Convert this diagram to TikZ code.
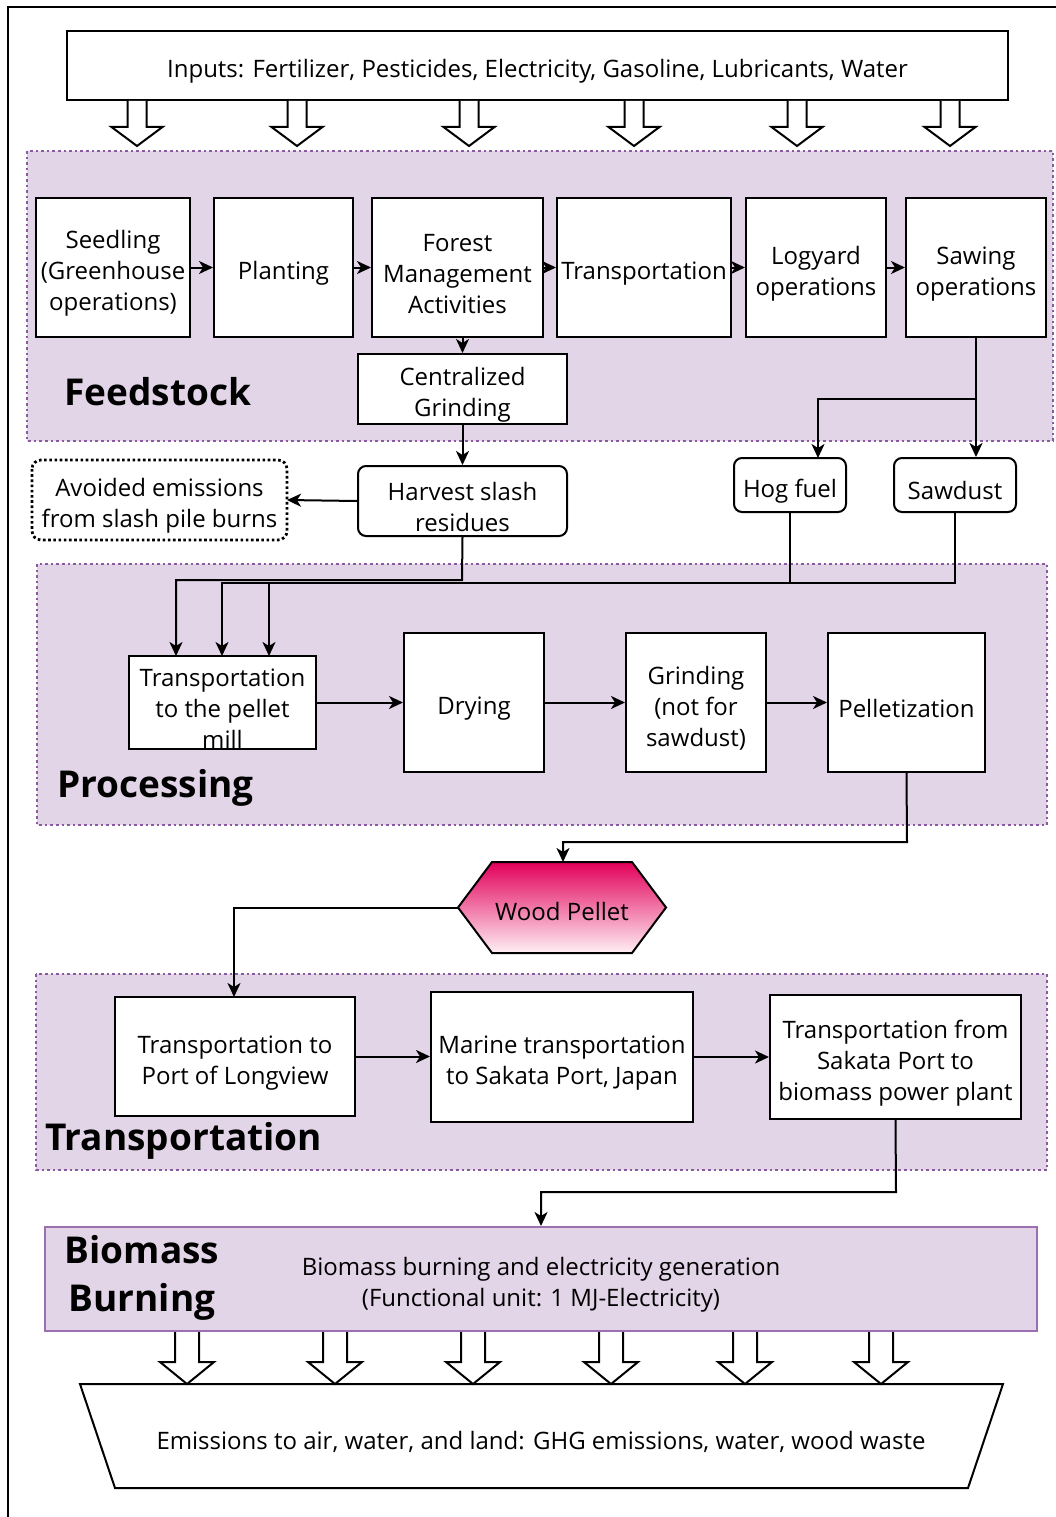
\documentclass[tikz,border=0pt]{standalone}
\usepackage{fontspec}
\setmainfont{Open Sans}
\usetikzlibrary{arrows.meta,calc}
\definecolor{regfill}{HTML}{E3D5E8}
\definecolor{regline}{HTML}{8A5A9E}
\definecolor{bioline}{HTML}{9C6FB0}
\definecolor{pelTop}{HTML}{E2005A}
\definecolor{pelBot}{HTML}{FFEFF4}
\newcommand\mystrut{\rule{0pt}{30pt}}
\newcommand\mystrutb{\rule{0pt}{26pt}}
\begin{document}
\begin{tikzpicture}[x=1pt,y=-1pt,
 box/.style={draw,line width=2pt,fill=white,align=center,inner sep=0pt,font=\fontsize{24}{31}\selectfont,execute at begin node={\rule{0pt}{30pt}}},
 rbox/.style={box,rounded corners=8pt},
 region/.style={fill=regfill,draw=regline,line width=2.6pt,dash pattern=on 2.6pt off 3pt},
 lbl/.style={font=\fontsize{37}{48}\selectfont\bfseries,inner sep=0pt,align=center},
 txt/.style={font=\fontsize{24}{31}\selectfont,inner sep=0pt,align=center,execute at begin node={\rule{0pt}{26pt}}},
 conn/.style={line width=2pt,-{Stealth[length=14pt,width=13pt,inset=4pt]}},
 blk/.style={draw,line width=2pt,fill=white,line join=miter}
]
\useasboundingbox (0,0) rectangle (1056,1517);
% frame
\draw[line width=2.4pt] (1056,7) -- (8,7) -- (8,1517);
% regions
\path[region] (27,151) rectangle (1053,441);
\path[region] (37,564) rectangle (1047,825);
\path[region] (36,974) rectangle (1047,1170);

% inputs
\node[box,minimum width=941pt,minimum height=69pt] (inputs) at (537.5,65.5) {Inputs: Fertilizer, Pesticides, Electricity, Gasoline, Lubricants, Water};
\foreach \x in {137,297,469,634,797,950}
  \draw[blk] ({\x-9.5},101) -- ({\x-9.5},127) -- ({\x-25.5},127) -- (\x,146) -- ({\x+25.5},127) -- ({\x+9.5},127) -- ({\x+9.5},101);

% feedstock
\node[box,minimum width=154pt,minimum height=139pt] (seed) at (113,267.5) {\mystrut Seedling\\(Greenhouse\\operations)};
\node[box,minimum width=139pt,minimum height=139pt] (plant) at (283.5,267.5) {Planting};
\node[box,minimum width=171pt,minimum height=139pt] (forest) at (457.5,267.5) {\mystrut Forest\\Management\\Activities};
\node[box,minimum width=174pt,minimum height=139pt] (transp) at (644,267.5) {Transportation};
\node[box,minimum width=140pt,minimum height=139pt] (logyard) at (816,267.5) {\mystrut Logyard\\operations};
\node[box,minimum width=140pt,minimum height=139pt] (sawing) at (976,267.5) {\mystrut Sawing\\operations};
\node[box,minimum width=209pt,minimum height=70pt] (cgrind) at (462.5,389) {\mystrut Centralized\\Grinding};
\node[lbl,anchor=west] (feedlbl) at (64,392) {Feedstock};

\draw[conn] (seed.east) -- (plant.west);
\draw[conn] (plant.east) -- (forest.west);
\draw[conn] (forest.east) -- (transp.west);
\draw[conn] (transp.east) -- (logyard.west);
\draw[conn] (logyard.east) -- (sawing.west);
\draw[conn] (cgrind.north |- forest.south) -- (cgrind.north);

% middle
\node[rbox,minimum width=209pt,minimum height=70pt] (harvest) at (462.5,501) {\mystrut Harvest slash\\residues};
\node[box,draw=none,fill=none,minimum width=253pt,minimum height=78pt] (avoided) at (159.5,500) {\mystrut Avoided emissions\\from slash pile burns};
\draw[line width=2.8pt,dash pattern=on 2.6pt off 2.6pt,rounded corners=9pt] (avoided.north west) rectangle (avoided.south east);
\node[rbox,minimum width=112pt,minimum height=54pt] (hog) at (790,485) {Hog fuel};
\node[rbox,minimum width=122pt,minimum height=54pt] (sawdust) at (955,485) {Sawdust};

\draw[conn] (cgrind.south) -- (harvest.north);
\draw[conn] (harvest.west) -- (avoided.east);
\coordinate (sawjoin) at (976,399);
\draw[conn] (sawing.south) -- (sawing.south |- sawdust.north);
\draw[conn] (sawjoin) -- (818,399) -- (818,458);

% processing
\node[box,minimum width=187pt,minimum height=93pt] (tpm) at (222.5,702.5) {\mystrut Transportation\\to the pellet\\mill};
\node[box,minimum width=140pt,minimum height=139pt] (drying) at (474,702.5) {Drying};
\node[box,minimum width=140pt,minimum height=139pt] (grind) at (696,702.5) {\mystrut Grinding\\(not for\\sawdust)};
\node[box,minimum width=157pt,minimum height=139pt] (pellet) at (906.5,702.5) {Pelletization};
\node[lbl,anchor=west] (proclbl) at (57,788) {Processing};

\draw[conn] (harvest.south) -- (462,580) -- (176,580) -- (176,656);
\draw[conn] (hog.south) -- (790,583) -- (222,583) -- (222,656);
\draw[conn] (sawdust.south) -- (955,583) -- (269,583) -- (269,656);
\draw[conn] (tpm.east) -- (tpm.east -| drying.west);
\draw[conn] (drying.east) -- (grind.west);
\draw[conn] (grind.east) -- (pellet.west);

% wood pellet
\shade[top color=pelTop,bottom color=pelBot,draw,line width=2pt] (458,907.5) -- (492,862) -- (632,862) -- (666,907.5) -- (632,953) -- (492,953) -- cycle;
\node[txt,minimum width=208pt,minimum height=91pt] (wood) at (562,907.5) {Wood Pellet};
\draw[conn] (pellet.south) -- (907,842) -- (563,842) -- (563,862);

% transportation
\node[box,minimum width=240pt,minimum height=119pt] (tport) at (235,1056.5) {\mystrut Transportation to\\Port of Longview};
\node[box,minimum width=262pt,minimum height=130pt] (marine) at (562,1057) {\mystrut Marine transportation\\to Sakata Port, Japan};
\node[box,minimum width=251pt,minimum height=124pt] (tsakata) at (895.5,1057) {\mystrut Transportation from\\Sakata Port to\\biomass power plant};
\node[lbl,anchor=west] (translbl) at (45,1141) {Transportation};
\draw[conn] (wood.west) -- (234,907.5) -- (234,997);
\draw[conn] (tport.east) -- (tport.east -| marine.west);
\draw[conn] (marine.east) -- (marine.east -| tsakata.west);

% biomass burning
\node[draw=bioline,fill=regfill,line width=2pt,minimum width=992pt,minimum height=104pt,inner sep=0pt] (biomass) at (541,1279) {};
\node[lbl] (biolbl) at (142,1278) {Biomass\\Burning};
\node[txt] (biotxt) at (541,1281) {\mystrutb Biomass burning and electricity generation\\(Functional unit: 1 MJ-Electricity)};
\draw[conn] (tsakata.south) -- (896,1192) -- (541,1192) -- (biomass.north);

% emissions
\draw[line width=2pt,fill=white] (80,1384) -- (1003,1384) -- (968,1488) -- (115,1488) -- cycle;
\node[txt,minimum width=923pt,minimum height=104pt] (emis) at (541,1438) {Emissions to air, water, and land: GHG emissions, water, wood waste};
\foreach \x in {187,335,473,611,745,881}
  \draw[blk] ({\x-12},1332) -- ({\x-12},1362) -- ({\x-27},1362) -- (\x,1384) -- ({\x+27},1362) -- ({\x+12},1362) -- ({\x+12},1332);
\end{tikzpicture}
\end{document}
